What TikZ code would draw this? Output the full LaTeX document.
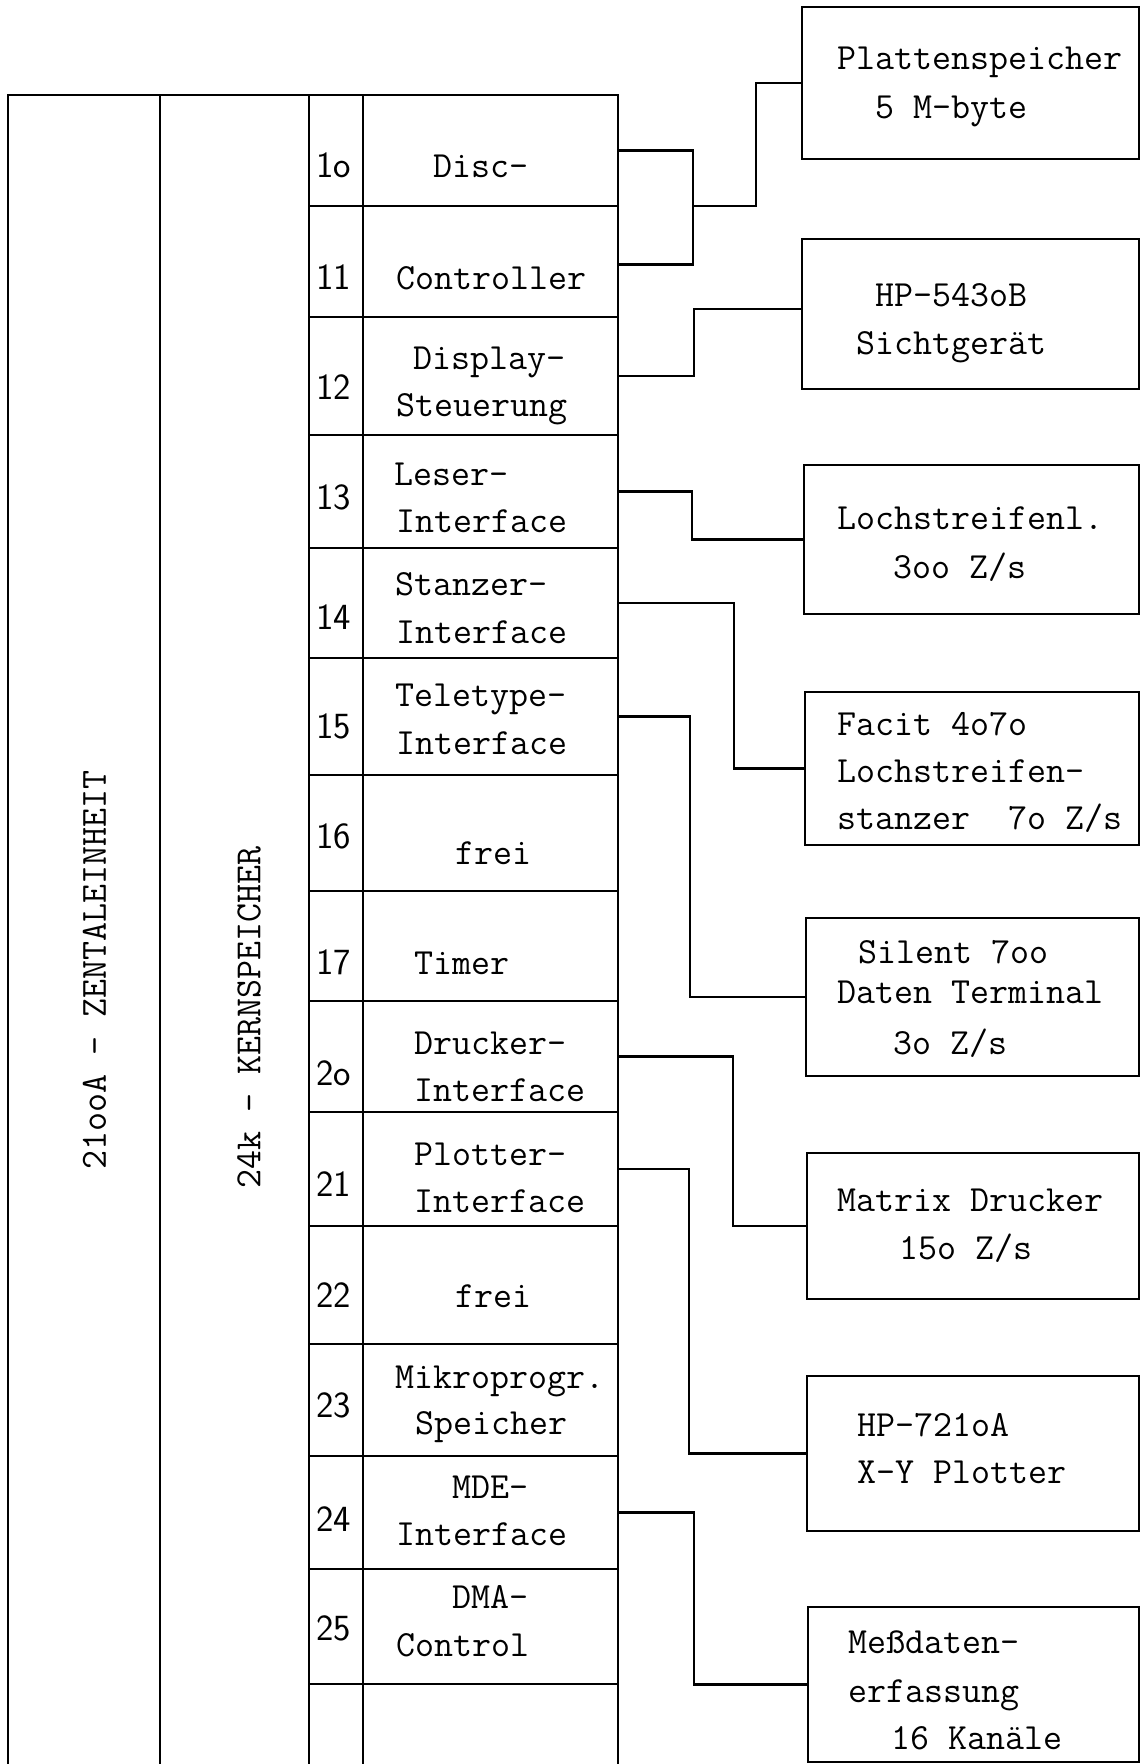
\documentclass[tikz,border=0pt]{standalone}
\usetikzlibrary{fit}
% typewriter lettering used throughout
\newcommand\typefont{\fontsize{21}{24}\selectfont\ttfamily}
\newcommand\numfont{\fontsize{21}{24}\selectfont\sffamily}
\begin{document}
\begin{tikzpicture}[x=0.02cm, y=-0.02cm,
  frame/.style={draw, line width=1.3pt, inner sep=0pt},
  wire/.style={draw, line width=1.3pt},
  lbl/.style={inner sep=0pt, anchor=base west, font=\typefont},
  num/.style={inner sep=0pt, anchor=base west, font=\numfont},
  vert/.style={inner sep=0pt, rotate=90, font=\typefont}]
\useasboundingbox (0,0) rectangle (1143,1764);

% central unit and core memory columns (open towards the bottom)
\node[frame, fit={(8,95) (160,1800)}] (cpu) {};
\node[frame, fit={(160,95) (309,1800)}] (mem) {};
\node[vert] (cpulbl) at (94.5,970) {21ooA - ZENTALEINHEIT};
\node[vert] (memlbl) at (249,1017) {24k - KERNSPEICHER};

% I/O slots: number cell n.. and interface cell r..
\foreach \n/\a/\b in {10/95/206, 11/206/317, 12/317/435, 13/435/548,
    14/548/658, 15/658/775, 16/775/891, 17/891/1001, 20/1001/1112,
    21/1112/1226, 22/1226/1344, 23/1344/1456, 24/1456/1569,
    25/1569/1684, 26/1684/1800} {
  \node[frame, fit={(309,\a) (363,\b)}] (n\n) {};
  \node[frame, fit={(363,\a) (618,\b)}] (r\n) {};
}

% slot numbers
\node[num] (k10) at (316,177.5) {1o};
\node[num] (k11) at (316,289) {11};
\node[num] (k12) at (316,399) {12};
\node[num] (k13) at (316,509) {13};
\node[num] (k14) at (316,629) {14};
\node[num] (k15) at (316,738) {15};
\node[num] (k16) at (316,848) {16};
\node[num] (k17) at (316,974) {17};
\node[num] (k20) at (316,1085) {2o};
\node[num] (k21) at (316,1196) {21};
\node[num] (k22) at (316,1307) {22};
\node[num] (k23) at (316,1417) {23};
\node[num] (k24) at (316,1531) {24};
\node[num] (k25) at (316,1640) {25};

% slot names
\node[lbl] (s10) at (433,177.5) {Disc-};
\node[lbl] (s11) at (396,289) {Controller};
\node[lbl] (s12a) at (413,369) {Display-};
\node[lbl] (s12b) at (396,416) {Steuerung};
\node[lbl] (s13a) at (394,485) {Leser-};
\node[lbl] (s13b) at (396,532) {Interface};
\node[lbl] (s14a) at (395,595) {Stanzer-};
\node[lbl] (s14b) at (396,643) {Interface};
\node[lbl] (s15a) at (395,706) {Teletype-};
\node[lbl] (s15b) at (396,754) {Interface};
\node[lbl] (s16) at (455,864) {frei};
\node[lbl] (s17) at (414,974) {Timer};
\node[lbl] (s20a) at (414,1054) {Drucker-};
\node[lbl] (s20b) at (414,1101) {Interface};
\node[lbl] (s21a) at (414,1165) {Plotter-};
\node[lbl] (s21b) at (414,1212) {Interface};
\node[lbl] (s22) at (455,1307) {frei};
\node[lbl] (s23a) at (395,1388) {Mikroprogr.};
\node[lbl] (s23b) at (415,1434) {Speicher};
\node[lbl] (s24a) at (452,1498) {MDE-};
\node[lbl] (s24b) at (396,1545) {Interface};
\node[lbl] (s25a) at (452,1608) {DMA-};
\node[lbl] (s25b) at (396,1656) {Control};

% peripheral devices
\node[frame, fit={(802,7) (1139,159)}] (b1) {};
\node[frame, fit={(802,239) (1139,389)}] (b2) {};
\node[frame, fit={(804,465) (1139,614)}] (b3) {};
\node[frame, fit={(805,692) (1139,845)}] (b4) {};
\node[frame, fit={(806,918) (1139,1076)}] (b5) {};
\node[frame, fit={(807,1153) (1139,1299)}] (b6) {};
\node[frame, fit={(807,1376) (1139,1531)}] (b7) {};
\node[frame, fit={(808,1607) (1139,1762)}] (b8) {};

\node[lbl] (d1a) at (837,70) {Plattenspeicher};
\node[lbl] (d1b) at (875,119) {5 M-byte};
\node[lbl] (d2a) at (875,306) {HP-543oB};
\node[lbl] (d2b) at (856,354) {Sichtgerät};
\node[lbl] (d3a) at (837,529) {Lochstreifenl.};
\node[lbl] (d3b) at (893,578) {3oo Z/s};
\node[lbl] (d4a) at (837,735) {Facit 4o7o};
\node[lbl] (d4b) at (837,782) {Lochstreifen-};
\node[lbl] (d4c) at (837,829) {stanzer\ \ 7o Z/s};
\node[lbl] (d5a) at (858,963) {Silent 7oo};
\node[lbl] (d5b) at (837,1003) {Daten Terminal};
\node[lbl] (d5c) at (893,1054) {3o Z/s};
\node[lbl] (d6a) at (837,1211) {Matrix Drucker};
\node[lbl] (d6b) at (899,1259) {15o Z/s};
\node[lbl] (d7a) at (857,1436) {HP-721oA};
\node[lbl] (d7b) at (857,1483) {X-Y Plotter};
\node[lbl] (d8a) at (848,1653) {Meßdaten-};
\node[lbl] (d8b) at (848,1702) {erfassung};
\node[lbl] (d8c) at (891,1749) {16 Kanäle};

% connections between slots and devices
\coordinate (disc) at (692,206);
\draw[wire] (r10.east) -- ++(74,0) |- ([yshift=-0.06cm]r11.east);
\draw[wire] (disc) -- ++(64,0) |- (b1.west);
\draw[wire] (r12.east) -- ++(75,0) |- ([yshift=0.1cm]b2.west);
\draw[wire] (r13.east) -- ++(73,0) |- (b3.west);
\draw[wire] (r14.east) -- ++(115,0) |- (b4.west);
\draw[wire] (r15.east) -- ++(71,0) |- (b5.west);
\draw[wire] (r20.east) -- ++(114,0) |- (b6.west);
\draw[wire] (r21.east) -- ++(70,0) |- (b7.west);
\draw[wire] (r24.east) -- ++(75,0) |- (b8.west);
\end{tikzpicture}
\end{document}
